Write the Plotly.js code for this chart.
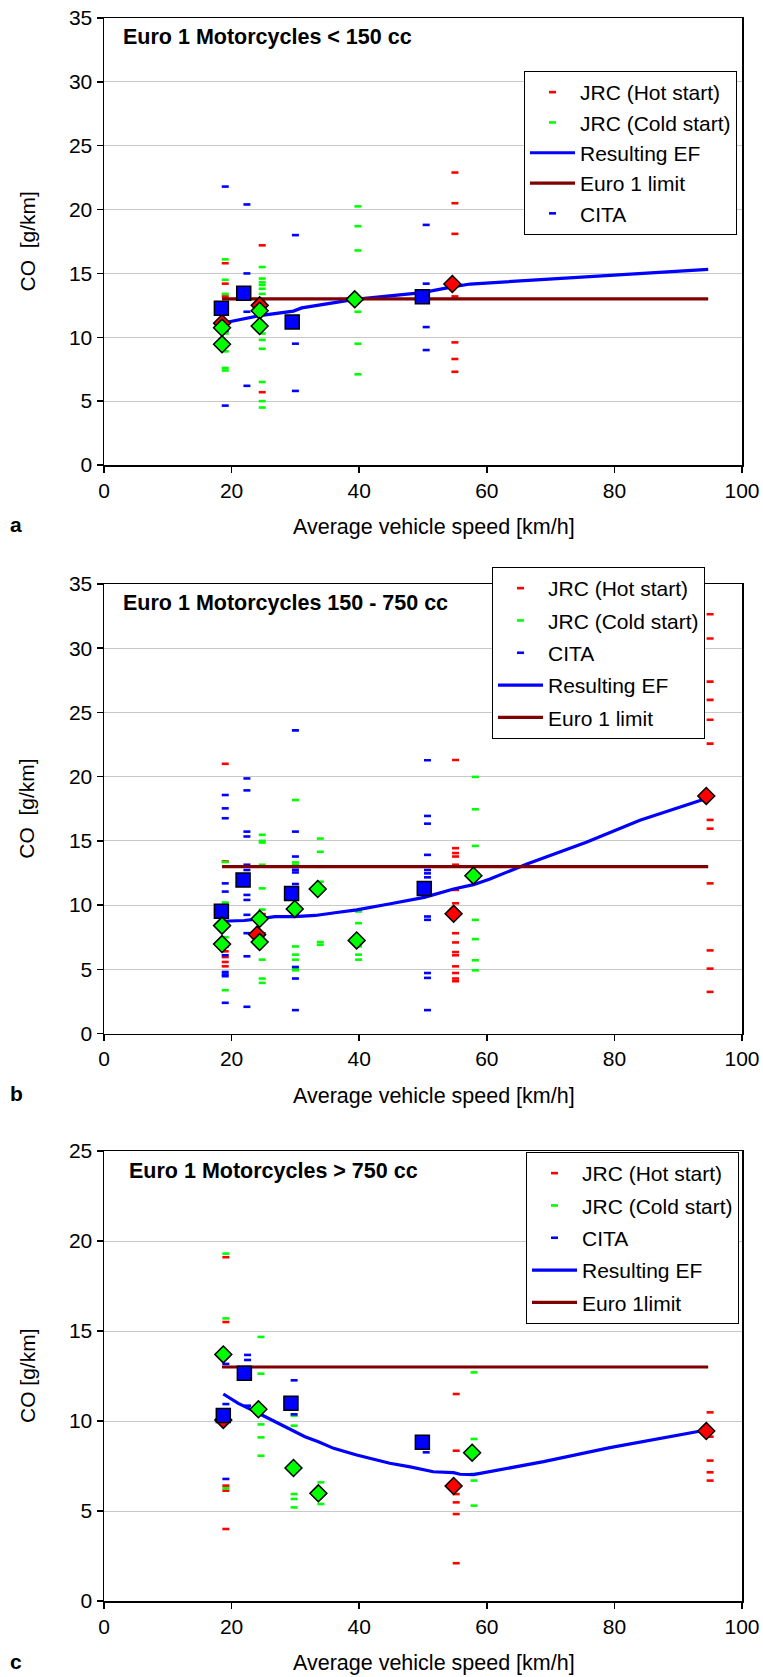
<!DOCTYPE html>
<html>
<head>
<meta charset="utf-8">
<script src="https://cdn.plot.ly/plotly-3.0.1.min.js"></script>
<style>html,body{margin:0;padding:0;background:#fff;}#chart{width:763px;height:1677px;}</style>
</head>
<body>
<div id="chart"></div>
<script>
// ---------------- DATA ----------------
const panelTitles = ['Euro 1 Motorcycles < 150 cc', 'Euro 1 Motorcycles 150 - 750 cc', 'Euro 1 Motorcycles > 750 cc'];
const panelLetters = ['a', 'b', 'c'];
const xTitle = 'Average vehicle speed [km/h]';
const yTitles = ['CO&nbsp; [g/km]', 'CO&nbsp; [g/km]', 'CO [g/km]'];
const legendNames = ['JRC (Hot start)', 'JRC (Cold start)', 'CITA', 'Resulting EF'];
const limitNames = ['Euro 1 limit', 'Euro 1 limit', 'Euro 1limit'];
const yMax = [35, 35, 25];

// Panel a (< 150 cc)
const aHotX  = [19,19,19, 24.8,24.8,24.8, 55,55,55,55,55,55,55];
const aHotY  = [15.8,14.2,13.2, 17.2,12.7,5.7, 22.9,20.5,18.1,13.2,9.6,8.3,7.3];
const aColdX = [19,19,19,19,19,19,19, 24.8,24.8,24.8,24.8,24.8,24.8,24.8,24.8,24.8,24.8,24.8,24.8,24.8, 39.8,39.8,39.8,39.8,39.8,39.8];
const aColdY = [16.1,14.5,13.4,10.3,8.9,7.6,7.4, 15.5,14.6,14.3,14.1,13.8,13.4,12.8,10.3,9.8,9.1,6.5,5.0,4.5, 20.25,18.7,16.8,12.0,9.5,7.1];
const aCitaX = [19,19,19, 22.4,22.4,22.4,22.4, 30,30,30, 50.5,50.5,50.5,50.5];
const aCitaY = [21.8,10.5,4.65, 20.4,15.0,12.0,6.2, 18.0,9.5,5.8, 18.8,14.2,10.8,9.0];
const aSqX = [18.4, 21.9, 29.5, 49.9];
const aSqY = [12.27, 13.44, 11.2, 13.18];
const aColdMeanX = [18.5, 18.5, 24.4, 24.4, 39.3];
const aColdMeanY = [10.75, 9.45, 12.08, 10.88, 12.97];
const aHotMeanX = [18.5, 24.4, 54.6];
const aHotMeanY = [11.1, 12.5, 14.17];
const aEfX = [18.5, 24.4, 29.7, 31.0, 39.3, 49.9, 54.6, 57.4, 94.7];
const aEfY = [11.1, 11.7, 12.05, 12.3, 12.97, 13.5, 13.95, 14.17, 15.32];
const aLimX = [18.5, 94.7];
const aLimY = [13, 13];

// Panel b (150 - 750 cc)
const bHotX  = [19,19,19,19,19,19, 24.8,24.8, 55.1,55.1,55.1,55.1,55.1,55.1,55.1,55.1,55.1,55.1,55.1,55.1,55.1,55.1,55.1, 95,95,95,95,95,95,95,95,95,95,95,95];
const bHotY  = [21.0,13.4,6.4,5.95,5.57,5.23, 9.3,7.8, 21.3,14.43,14.05,13.78,13.14,11.18,10.14,7.81,7.09,6.34,6.09,5.23,4.71,4.28,4.07, 32.65,30.76,27.4,25.98,24.43,22.57,16.63,15.95,11.69,6.47,5.05,3.24];
const bColdX = [19,19,19,19, 24.8,24.8,24.8,24.8,24.8,24.8,24.8,24.8,24.8, 30,30,30,30,30,30,30,30, 33.9,33.9,33.9,33.9,33.9,33.9, 39.9,39.9,39.9,39.9,39.9, 58.2,58.2,58.2,58.2,58.2,58.2,58.2];
const bColdY = [13.35,10.2,7.5,3.37, 15.47,15.0,14.87,13.14,11.3,9.65,5.75,4.28,3.94, 18.18,13.32,13.14,6.78,6.14,5.75,5.05,4.92, 15.18,14.15,12.98,11.82,7.12,6.91, 9.5,8.59,6.78,6.14,5.75, 19.98,17.46,14.61,8.85,7.35,5.7,4.92];
const bCitaX = [19,19,19,19,19,19,19,19,19,19,19, 22.4,22.4,22.4,22.4,22.4,22.4,22.4,22.4,22.4,22.4,22.4,22.4, 30,30,30,30,30,30,30,30,30,30, 50.7,50.7,50.7,50.7,50.7,50.7,50.7,50.7,50.7,50.7,50.7,50.7];
const bCitaY = [18.57,17.53,16.76,11.69,11.05,6.78,6.09,4.79,4.6,4.46,2.39, 19.86,18.93,15.72,15.34,13.14,12.73,10.79,10.4,9.24,7.81,6.01,2.08, 23.6,15.72,13.78,12.75,12.54,11.64,9.26,5.18,4.28,1.82, 21.28,16.94,16.34,13.91,12.73,12.47,12.16,9.11,8.85,4.71,4.33,1.82];
const bSqX = [18.4, 21.8, 29.4, 50.2];
const bSqY = [9.52, 11.95, 10.9, 11.3];
const bColdMeanX = [18.5, 18.5, 24.4, 24.4, 29.9, 33.5, 39.6, 57.9];
const bColdMeanY = [8.4, 6.96, 8.93, 7.12, 9.7, 11.25, 7.25, 12.29];
const bHotMeanX = [24.0, 54.8, 94.4];
const bHotMeanY = [7.7, 9.32, 18.5];
const bEfX = [18.4, 22.0, 24.2, 26.8, 29.9, 33.1, 36.2, 39.6, 44.9, 50.2, 54.8, 57.9, 60.5, 66.3, 75.6, 84.0, 94.4];
const bEfY = [8.74, 8.8, 8.93, 9.1, 9.1, 9.19, 9.4, 9.63, 10.1, 10.6, 11.25, 11.59, 12.03, 13.2, 14.9, 16.6, 18.3];
const bLimX = [18.5, 94.7];
const bLimY = [13, 13];

// Panel c (> 750 cc)
const cHotX  = [19.1,19.1,19.1,19.1,19.1, 55.2,55.2,55.2,55.2,55.2,55.2, 95,95,95,95,95];
const cHotY  = [19.1,15.5,6.41,6.13,4.0, 11.5,8.35,5.94,5.48,4.83,2.1, 10.48,9.13,7.8,7.15,6.69];
const cColdX = [19.1,19.1,19.1, 24.6,24.6,24.6,24.6,24.6, 29.8,29.8,29.8,29.8,29.8, 34,34, 58,58,58,58,58];
const cColdY = [19.3,15.7,6.26, 14.67,12.63,9.81,9.09,8.07, 10.3,9.74,5.94,5.67,5.2, 6.59,5.39, 12.7,9.0,7.06,6.69,5.3];
const cCitaX = [19.1,19.1,19.1, 22.5,22.5,22.5, 29.8,29.8, 50.5];
const cCitaY = [13.17,10.94,6.78, 13.67,13.39,10.85, 12.26,10.37, 8.26];
const cSqX = [18.7, 22.0, 29.3, 49.9];
const cSqY = [10.3, 12.65, 10.98, 8.82];
const cColdMeanX = [18.7, 24.2, 29.7, 33.6, 57.7];
const cColdMeanY = [13.7, 10.65, 7.39, 5.98, 8.24];
const cHotMeanX = [18.7, 54.8, 94.4];
const cHotMeanY = [10.06, 6.39, 9.44];
const cEfX = [18.7, 21.05, 24.2, 27.3, 29.7, 31.5, 33.6, 36.0, 39.6, 44.8, 48.0, 51.6, 54.8, 55.8, 57.9, 62.6, 68.9, 79.3, 94.4];
const cEfY = [11.5, 10.98, 10.43, 9.87, 9.44, 9.13, 8.85, 8.48, 8.11, 7.65, 7.45, 7.18, 7.13, 7.04, 7.02, 7.31, 7.74, 8.52, 9.5];
const cLimX = [18.5, 94.7];
const cLimY = [13, 13];

// ---------------- STYLE / BUILD ----------------
const FONT = 'Liberation Sans, Arial, sans-serif';
const RED = '#ff0000', GREEN = '#00ff00', BLUE = '#0000ff', MAROON = '#800000';
const W = 763, H = 1677;
const xDom = [104 / W, 742 / W];
const yPix = [[18, 465], [584, 1033.5], [1151, 1601]];
const legendPos = [[524, 71, 0], [492, 567, 2], [526, 1152, 2]];
// legend order ranks per panel: [hot, cold, cita, ef, limit]
const ranks = [[1, 2, 5, 3, 4], [1, 2, 3, 4, 5], [1, 2, 3, 4, 5]];

const panels = [
  {hot:[aHotX,aHotY], cold:[aColdX,aColdY], cita:[aCitaX,aCitaY], sq:[aSqX,aSqY], coldM:[aColdMeanX,aColdMeanY], hotM:[aHotMeanX,aHotMeanY], ef:[aEfX,aEfY], lim:[aLimX,aLimY]},
  {hot:[bHotX,bHotY], cold:[bColdX,bColdY], cita:[bCitaX,bCitaY], sq:[bSqX,bSqY], coldM:[bColdMeanX,bColdMeanY], hotM:[bHotMeanX,bHotMeanY], ef:[bEfX,bEfY], lim:[bLimX,bLimY]},
  {hot:[cHotX,cHotY], cold:[cColdX,cColdY], cita:[cCitaX,cCitaY], sq:[cSqX,cSqY], coldM:[cColdMeanX,cColdMeanY], hotM:[cHotMeanX,cHotMeanY], ef:[cEfX,cEfY], lim:[cLimX,cLimY]}
];

const traces = [];
const layout = {
  width: W, height: H,
  margin: {l: 0, r: 0, t: 0, b: 0},
  paper_bgcolor: '#fff', plot_bgcolor: '#fff',
  font: {family: FONT, size: 21, color: '#000'},
  showlegend: true,
  annotations: []
};

panels.forEach((p, i) => {
  const sfx = i === 0 ? '' : String(i + 1);
  const xa = 'x' + sfx, ya = 'y' + sfx;
  const lg = 'legend' + sfx;
  const r = ranks[i];
  const dash = (d, color, name, rank) => ({
    type: 'scatter', mode: 'markers', x: d[0], y: d[1], xaxis: xa, yaxis: ya,
    name: name, legend: lg, legendgroup: 'g' + rank + '_' + i, legendrank: rank, showlegend: true,
    marker: {symbol: 'line-ew-open', size: 5, color: color, line: {width: 2.6, color: color}},
    hoverinfo: 'x+y'
  });
  traces.push(dash(p.hot, RED, legendNames[0], r[0]));
  traces.push(dash(p.cold, GREEN, legendNames[1], r[1]));
  traces.push(dash(p.cita, BLUE, legendNames[2], r[2]));
  traces.push({type: 'scatter', mode: 'lines', x: p.ef[0], y: p.ef[1], xaxis: xa, yaxis: ya,
    name: legendNames[3], legend: lg, legendgroup: 'g' + r[3] + '_' + i, legendrank: r[3],
    line: {color: BLUE, width: 3.2}});
  traces.push({type: 'scatter', mode: 'lines', x: p.lim[0], y: p.lim[1], xaxis: xa, yaxis: ya,
    name: limitNames[i], legend: lg, legendgroup: 'g' + r[4] + '_' + i, legendrank: r[4],
    line: {color: MAROON, width: 3.2}});
  traces.push({type: 'scatter', mode: 'markers', x: p.hotM[0], y: p.hotM[1], xaxis: xa, yaxis: ya,
    showlegend: false, legend: lg,
    marker: {symbol: 'diamond', size: 13, color: RED, line: {width: 1.5, color: '#000'}}});
  traces.push({type: 'scatter', mode: 'markers', x: p.sq[0], y: p.sq[1], xaxis: xa, yaxis: ya,
    showlegend: false, legend: lg,
    marker: {symbol: 'square', size: 14, color: BLUE, line: {width: 1.5, color: '#000'}}});
  traces.push({type: 'scatter', mode: 'markers', x: p.coldM[0], y: p.coldM[1], xaxis: xa, yaxis: ya,
    showlegend: false, legend: lg,
    marker: {symbol: 'diamond', size: 13, color: GREEN, line: {width: 1.5, color: '#000'}}});

  const yd = [1 - yPix[i][1] / H, 1 - yPix[i][0] / H];
  layout['xaxis' + sfx] = {
    domain: xDom, anchor: ya, range: [0, 100], dtick: 20, tick0: 0,
    ticks: 'outside', ticklen: 6, tickwidth: 1.5, tickcolor: '#000',
    showline: true, mirror: true, linecolor: '#000', linewidth: 1.5,
    showgrid: false, zeroline: false, fixedrange: true,
    tickfont: {family: FONT, size: 21, color: '#000'}
  };
  layout['yaxis' + sfx] = {
    domain: yd, anchor: xa, range: [0, yMax[i]], dtick: 5, tick0: 0,
    ticks: 'outside', ticklen: 6, tickwidth: 1.5, tickcolor: '#000',
    showline: true, mirror: true, linecolor: '#000', linewidth: 1.5,
    showgrid: true, gridcolor: '#c8c8c8', gridwidth: 1, zeroline: false, fixedrange: true,
    tickfont: {family: FONT, size: 21, color: '#000'}
  };
  const lp = legendPos[i];
  layout[lg] = {
    x: lp[0] / W, y: 1 - lp[1] / H, xanchor: 'left', yanchor: 'top',
    bgcolor: '#fff', bordercolor: '#000', borderwidth: 1,
    font: {family: FONT, size: 21, color: '#000'},
    traceorder: 'grouped', tracegroupgap: lp[2], itemwidth: 45
  };

  // panel title
  const titleY = [37, 603, 1171][i];
  const titleX = [121, 121, 127][i];
  layout.annotations.push({xref: 'paper', yref: 'paper', x: titleX / W, y: 1 - titleY / H,
    xanchor: 'left', yanchor: 'middle', showarrow: false,
    text: '<b>' + panelTitles[i] + '</b>', font: {family: FONT, size: 21.5, color: '#000'}});
  // x title
  const xtY = yPix[i][1] + 62;
  layout.annotations.push({xref: 'paper', yref: 'paper', x: 434 / W, y: 1 - xtY / H,
    xanchor: 'center', yanchor: 'middle', showarrow: false,
    text: xTitle, font: {family: FONT, size: 21.5, color: '#000'}});
  // letter
  layout.annotations.push({xref: 'paper', yref: 'paper', x: 8 / W, y: 1 - (xtY - 2) / H,
    xanchor: 'left', yanchor: 'middle', showarrow: false,
    text: '<b>' + panelLetters[i] + '</b>', font: {family: FONT, size: 21, color: '#000'}});
  // y title
  layout.annotations.push({xref: 'paper', yref: 'paper', x: 27 / W, y: 1 - (yPix[i][0] + yPix[i][1]) / 2 / H,
    xanchor: 'center', yanchor: 'middle', showarrow: false, textangle: -90,
    text: yTitles[i], font: {family: FONT, size: 21, color: '#000'}});
});

Plotly.newPlot('chart', traces, layout, {staticPlot: true, displayModeBar: false});
</script>
</body>
</html>
